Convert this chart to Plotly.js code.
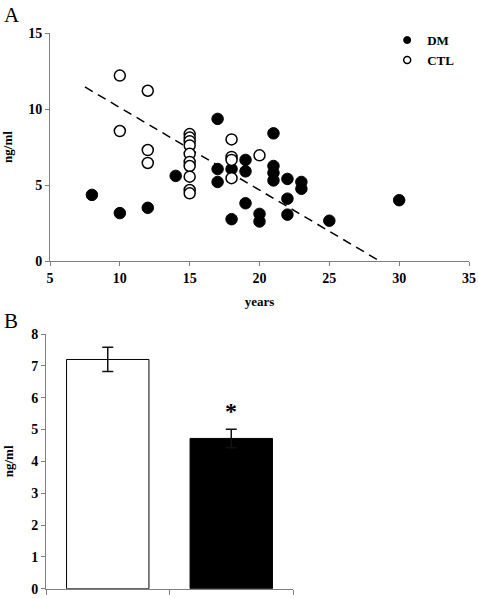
<!DOCTYPE html>
<html>
<head>
<meta charset="utf-8">
<script src="https://cdn.plot.ly/plotly-3.0.1.min.js"></script>
<style>html,body{margin:0;padding:0;background:#fff;}#chart{width:478px;height:598px;}</style>
</head>
<body>
<div id="chart"></div>
<script>
// Panel A: scatter data (years vs ng/ml)
const dmYears = [8, 10, 12, 14, 17, 17, 17, 18, 18, 19, 19, 19, 20, 20, 21, 21, 21, 21, 22, 22, 22, 23, 23, 25, 30];
const dmValues = [4.35, 3.15, 3.5, 5.6, 9.35, 6.05, 5.2, 6.05, 2.75, 6.65, 5.9, 3.8, 3.1, 2.6, 8.4, 6.25, 5.8, 5.3, 5.4, 4.1, 3.05, 5.2, 4.75, 2.65, 4.0];
const ctlYears = [10, 10, 12, 12, 12, 15, 15, 15, 15, 15, 15, 15, 15, 15, 15, 18, 18, 18, 18, 20];
const ctlValues = [12.2, 8.55, 11.2, 7.3, 6.45, 8.35, 8.12, 7.88, 7.6, 7.05, 6.52, 6.25, 5.55, 4.67, 4.45, 8.0, 6.85, 6.65, 5.45, 6.95];
// Regression line endpoints
const fitYears = [7.5, 28.6];
const fitValues = [11.45, 0];
// Panel B: bar data
const groups = ["CTL", "DM"];
const means = [7.2, 4.72];
const sems = [0.38, 0.29];

const serif = "'Liberation Serif', 'Times New Roman', serif";
const axisGray = "#7f7f7f";
const tickFont = {family: serif, size: 14, color: "#000", weight: "bold"};

const traces = [
  {type: "scatter", mode: "lines", x: fitYears, y: fitValues, xaxis: "x", yaxis: "y",
   line: {color: "#000", width: 1.5, dash: "9px,6px"}, showlegend: false, hoverinfo: "skip"},
  {type: "scatter", mode: "markers", name: "DM", x: dmYears, y: dmValues, xaxis: "x", yaxis: "y",
   marker: {size: 11.5, color: "#000", line: {color: "#000", width: 1}}, showlegend: false},
  {type: "scatter", mode: "markers", name: "CTL", x: ctlYears, y: ctlValues, xaxis: "x", yaxis: "y",
   marker: {size: 11, color: "#fff", line: {color: "#000", width: 1.5}}, showlegend: false},
  // legend entries
  {type: "scatter", mode: "markers", name: "DM", x: [null], y: [null], xaxis: "x", yaxis: "y",
   marker: {size: 7, color: "#000", line: {color: "#000", width: 1}}},
  {type: "scatter", mode: "markers", name: "CTL", x: [null], y: [null], xaxis: "x", yaxis: "y",
   marker: {size: 7, color: "#fff", line: {color: "#000", width: 1.5}}},
  // Panel B bars
  {type: "bar", x: groups, y: means, xaxis: "x2", yaxis: "y2", width: 0.667,
   marker: {color: ["#fff", "#000"], line: {color: "#000", width: 1}},
   error_y: {type: "data", array: sems, visible: true, color: "#111", thickness: 1.5, width: 5.5},
   showlegend: false, hoverinfo: "skip"}
];

const layout = {
  width: 478, height: 598,
  margin: {l: 0, r: 0, t: 0, b: 0},
  paper_bgcolor: "#fff", plot_bgcolor: "rgba(0,0,0,0)",
  font: {family: serif, color: "#000"},
  showlegend: true,
  legend: {x: 0.81, y: 0.958, xanchor: "left", yanchor: "top", bgcolor: "rgba(0,0,0,0)",
           font: {family: serif, size: 13, color: "#000", weight: "bold"}, tracegroupgap: 0},
  xaxis: {domain: [50/478, 469/478], anchor: "y", range: [5, 35], dtick: 5, tick0: 5,
          showgrid: false, zeroline: false, showline: true, linecolor: axisGray, linewidth: 1,
          ticks: "outside", ticklen: 4, tickcolor: axisGray, tickfont: tickFont,
          title: {text: "years", font: {family: serif, size: 13, color: "#000", weight: "bold"}, standoff: 12}},
  yaxis: {domain: [1 - 261/598, 1 - 33/598], anchor: "x", range: [0, 15], dtick: 5,
          showgrid: false, zeroline: false, showline: true, linecolor: axisGray, linewidth: 1,
          ticks: "outside", ticklen: 4, tickcolor: axisGray, tickfont: tickFont,
          title: {text: "ng/ml", font: {family: serif, size: 13, color: "#000", weight: "bold"}, standoff: 14}},
  xaxis2: {domain: [46/478, 293/478], anchor: "y2", type: "category", range: [-0.5, 1.5],
           showticklabels: false, tickson: "boundaries", showgrid: false, zeroline: false,
           showline: true, linecolor: axisGray, linewidth: 1, ticks: "outside", ticklen: 5, tickcolor: axisGray},
  yaxis2: {domain: [1 - 588.7/598, 1 - 334/598], anchor: "x2", range: [0, 8], dtick: 1,
           showgrid: false, zeroline: false, showline: true, linecolor: axisGray, linewidth: 1,
           ticks: "outside", ticklen: 4, tickcolor: axisGray, tickfont: tickFont,
           title: {text: "ng/ml", font: {family: serif, size: 13, color: "#000", weight: "bold"}, standoff: 14}},
  annotations: [
    {xref: "paper", yref: "paper", x: 2/478, y: 1 - 15/598, xanchor: "left", yanchor: "middle",
     text: "A", showarrow: false, font: {family: serif, size: 21, color: "#000"}},
    {xref: "paper", yref: "paper", x: 2/478, y: 1 - 321/598, xanchor: "left", yanchor: "middle",
     text: "B", showarrow: false, font: {family: serif, size: 21, color: "#000"}},
    {xref: "x2", yref: "y2", x: "DM", y: 5.12, xanchor: "center", yanchor: "bottom",
     text: "*", showarrow: false, font: {family: serif, size: 24, color: "#000", weight: "bold"}}
  ]
};

Plotly.newPlot("chart", traces, layout, {displayModeBar: false, staticPlot: true});
</script>
</body>
</html>
